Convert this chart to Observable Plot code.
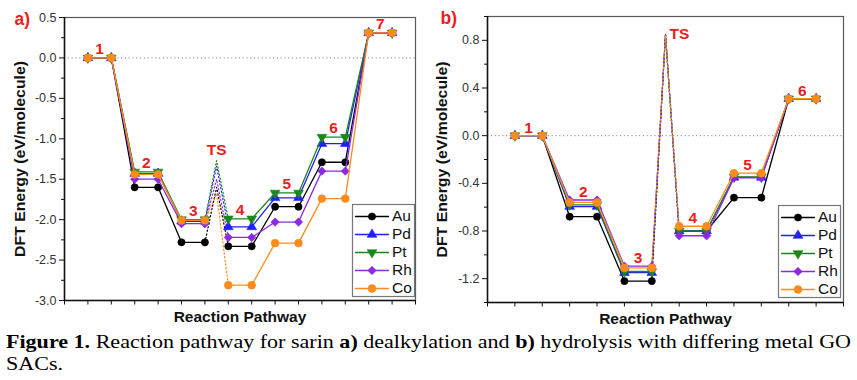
<!DOCTYPE html>
<html>
<head>
<meta charset="utf-8">
<script src="https://cdn.jsdelivr.net/npm/d3@7"></script>
<script src="https://cdn.jsdelivr.net/npm/@observablehq/plot@0.6"></script>
<style>
  html, body { margin: 0; padding: 0; background: #fff; }
  #wrap { position: relative; width: 857px; height: 380px; overflow: hidden; background: #fff; }
  .abs { position: absolute; }
  #cap { position: absolute; left: 6px; top: 331px; font-family: "Liberation Serif", "Times New Roman", serif; font-size: 19.5px; line-height: 22px; color: #000; white-space: nowrap; transform-origin: 0 0; }
</style>
</head>
<body>
<div id="wrap">
  <div id="pa" class="abs" style="left:0;top:0"></div>
  <div id="pb" class="abs" style="left:430px;top:0"></div>
  <div id="la" class="abs" style="left:352px;top:204px"></div>
  <div id="lb" class="abs" style="left:778px;top:205px"></div>
  <div id="cap"><span id="capline"><b>Figure 1.</b> Reaction pathway for sarin <b>a)</b> dealkylation and <b>b)</b> hydrolysis with differing metal GO</span><br>SACs.</div>
</div>
<script>
// ---------- data ----------
const metals = ["Au", "Pd", "Pt", "Rh", "Co"];
const colors = ["#000000", "#1f1fff", "#1b871b", "#8a2be2", "#ff8c1a"];

// panel a) dealkylation: levels 1..7, TS between levels 3 and 4
const levelLabelsA = ["1", "2", "3", "4", "5", "6", "7"];
const auA = [0, -1.60, -2.28, -2.33, -1.84, -1.29, 0.31];
const pdA = [0, -1.43, -2.02, -2.09, -1.73, -1.06, 0.31];
const ptA = [0, -1.41, -2.00, -1.99, -1.67, -0.98, 0.31];
const rhA = [0, -1.50, -2.05, -2.22, -2.03, -1.40, 0.31];
const coA = [0, -1.44, -2.01, -2.81, -2.29, -1.74, 0.31];
const tsA = [-1.60, -1.34, -1.27, -1.50, -1.68]; // Au, Pd, Pt, Rh, Co
const yTicksA = [0.5, 0.0, -0.5, -1.0, -1.5, -2.0, -2.5, -3.0];

// panel b) hydrolysis: levels 1..6, TS between levels 3 and 4
const levelLabelsB = ["1", "2", "3", "4", "5", "6"];
const auB = [0, -0.68, -1.22, -0.80, -0.52, 0.31];
const pdB = [0, -0.595, -1.15, -0.80, -0.35, 0.31];
const ptB = [0, -0.58, -1.14, -0.80, -0.345, 0.31];
const rhB = [0, -0.54, -1.095, -0.84, -0.355, 0.31];
const coB = [0, -0.56, -1.11, -0.76, -0.315, 0.31];
const tsB = [0.85, 0.855, 0.85, 0.85, 0.84];
const yTicksB = [0.8, 0.4, 0.0, -0.4, -0.8, -1.2];

const seriesA = [auA, pdA, ptA, rhA, coA];
const seriesB = [auB, pdB, ptB, rhB, coB];

// ---------- helpers ----------
const FONT = "'Liberation Sans', Arial, sans-serif";
const RED = "#ee1c1c";
const Y_TITLE = "DFT Energy (eV/molecule)";

const triDown = {
  draw(context, size) {
    const y = Math.sqrt(size / (Math.sqrt(3) * 3));
    const s3 = Math.sqrt(3);
    context.moveTo(0, 2 * y);
    context.lineTo(s3 * y, -y);
    context.lineTo(-s3 * y, -y);
    context.closePath();
  }
};
const symbols = ["circle", "triangle", triDown, "diamond2", "circle"];
const radii = [3.6, 3.6, 3.6, 3.8, 3.9];

function buildRows(series, ts) {
  const dots = [], solid = [], dotted = [];
  series.forEach((vals, k) => {
    const m = metals[k];
    vals.forEach((v, i) => {
      const seg = i < 3 ? "a" : "b";
      [2 * i + 1, 2 * i + 2].forEach(x => {
        dots.push({m, k, x, y: v});
        solid.push({m, k, x, y: v, g: m + seg});
      });
    });
    dotted.push({m, k, x: 6, y: vals[2]});
    dotted.push({m, k, x: 6.5, y: ts[k]});
    dotted.push({m, k, x: 7, y: vals[3]});
  });
  return {dots, solid, dotted};
}

function panel(opts) {
  const {series, ts, levelLabels, yTicks, yDomain, xMax, width, ml, mr, mt, mb, minorStep, panelLabel, panelDx, tsLabelDx, tsLabelDy, lblDy} = opts;
  const {dots, solid, dotted} = buildRows(series, ts);
  const height = 325;
  const minor = d3.range(yDomain[0], yDomain[1] + 1e-9, minorStep).map(v => +v.toFixed(3)).filter(v => !yTicks.some(t => Math.abs(t - v) < 1e-6));
  const labels = levelLabels.map((t, i) => ({t, x: 2 * i + 1.5, y: d3.max(series, s => s[i])}));
  const marks = [
    Plot.ruleY([0], {stroke: "#8a8a8a", strokeWidth: 1, strokeDasharray: "1.2,2.6"}),
    Plot.frame({stroke: "#5a5a5a", strokeWidth: 1.2}),
    Plot.ruleX([0], {stroke: "#111", strokeWidth: 1.5}),
    Plot.ruleY([yDomain[0]], {stroke: "#111", strokeWidth: 1.5}),
    Plot.axisY({ticks: yTicks, tickSize: 5, tickPadding: 3, tickFormat: d => d.toFixed(1), label: null, stroke: "#111", fill: "#333", fontSize: 12.5}),
    Plot.axisY({ticks: minor, tickSize: 3, tickFormat: () => "", label: null, stroke: "#111"}),
    Plot.axisX({ticks: d3.range(0, xMax + 1), tickSize: 4.5, tickFormat: () => "", label: null, stroke: "#111"}),
  ];
  metals.forEach((m, k) => {
    marks.push(Plot.line(dotted.filter(d => d.k === k), {x: "x", y: "y", stroke: colors[k], strokeWidth: 1.2, strokeDasharray: "1.3,2.4"}));
  });
  metals.forEach((m, k) => {
    marks.push(Plot.line(solid.filter(d => d.k === k), {x: "x", y: "y", z: "g", stroke: colors[k], strokeWidth: 1.3}));
    marks.push(Plot.dot(dots.filter(d => d.k === k), {x: "x", y: "y", fill: colors[k], stroke: colors[k], strokeWidth: 0.6, symbol: symbols[k], r: radii[k]}));
  });
  marks.push(
    Plot.text(labels, {x: "x", y: "y", text: "t", dy: lblDy, fill: RED, fontWeight: "bold", fontSize: 15.5, fontFamily: FONT, lineAnchor: "middle"}),
    Plot.text([{t: "TS", x: 6.5, y: d3.max(ts)}], {x: "x", y: "y", text: "t", dx: tsLabelDx, dy: tsLabelDy, fill: RED, fontWeight: "bold", fontSize: 15.5, fontFamily: FONT, lineAnchor: "middle"}),
    Plot.text([panelLabel], {text: d => d, frameAnchor: "top-left", dx: panelDx, dy: 2, textAnchor: "start", lineAnchor: "middle", fill: RED, fontWeight: "bold", fontSize: 17.5, fontFamily: FONT}),
    Plot.text([Y_TITLE], {text: d => d, frameAnchor: "left", textAnchor: "middle", rotate: -90, dx: opts.yTitleDx, fill: "#111", fontWeight: "bold", fontSize: 15, fontFamily: FONT, lineAnchor: "middle"}),
    Plot.text(["Reaction Pathway"], {text: d => d, frameAnchor: "bottom", textAnchor: "middle", dy: opts.xTitleDy, fill: "#111", fontWeight: "bold", fontSize: 15.5, fontFamily: FONT, lineAnchor: "middle"})
  );
  const svg = Plot.plot({
    width, height,
    marginLeft: ml, marginRight: mr, marginTop: mt, marginBottom: mb,
    x: {domain: [0, xMax], axis: null},
    y: {domain: yDomain, axis: null},
    style: {fontFamily: FONT, background: "transparent", overflow: "visible"},
    marks
  });
  // the reference's rotated title runs along most of the axis height
  svg.querySelectorAll("text").forEach(t => {
    if (t.textContent === Y_TITLE) {
      t.setAttribute("textLength", 196);
      t.setAttribute("lengthAdjust", "spacingAndGlyphs");
    }
  });
  return svg;
}

function legend() {
  const rows = metals.map((m, k) => ({m, k, y: 12 + k * 18}));
  const marks = [Plot.frame({stroke: "#777", strokeWidth: 1.2})];
  rows.forEach(r => {
    marks.push(Plot.line([{x: 3, y: r.y}, {x: 36, y: r.y}], {x: "x", y: "y", stroke: colors[r.k], strokeWidth: 1.3}));
    marks.push(Plot.dot([{x: 19.5, y: r.y}], {x: "x", y: "y", fill: colors[r.k], stroke: colors[r.k], strokeWidth: 0.6, symbol: symbols[r.k], r: radii[r.k]}));
  });
  marks.push(Plot.text(rows, {x: () => 39.5, y: "y", text: "m", textAnchor: "start", lineAnchor: "middle", fill: "#111", fontSize: 15.5, fontFamily: FONT}));
  return Plot.plot({
    width: 62, height: 92, margin: 0,
    x: {domain: [0, 62], axis: null},
    y: {domain: [0, 92], range: [0, 92], axis: null},
    style: {background: "#fff", overflow: "visible"},
    marks
  });
}

document.getElementById("pa").append(panel({
  series: seriesA, ts: tsA, levelLabels: levelLabelsA, yTicks: yTicksA, yDomain: [-3, 0.5], xMax: 15,
  width: 430, ml: 64, mr: 15, mt: 17, mb: 25, minorStep: 0.25, panelLabel: "a)", panelDx: -50,
  tsLabelDx: 0, tsLabelDy: -11, lblDy: -9, yTitleDx: -44, xTitleDy: 17
}));
document.getElementById("pb").append(panel({
  series: seriesB, ts: tsB, levelLabels: levelLabelsB, yTicks: yTicksB, yDomain: [-1.4, 1.0], xMax: 13,
  width: 427, ml: 57, mr: 14, mt: 16, mb: 23, minorStep: 0.2, panelLabel: "b)", panelDx: -47,
  tsLabelDx: 14, tsLabelDy: 0, lblDy: -8, yTitleDx: -45, xTitleDy: 17
}));
document.getElementById("la").append(legend());
document.getElementById("lb").append(legend());

// fit the first caption line to the reference's width
const cap = document.getElementById("cap");
const w = document.getElementById("capline").getBoundingClientRect().width;
cap.style.transform = `scaleX(${845 / w})`;
</script>
</body>
</html>
